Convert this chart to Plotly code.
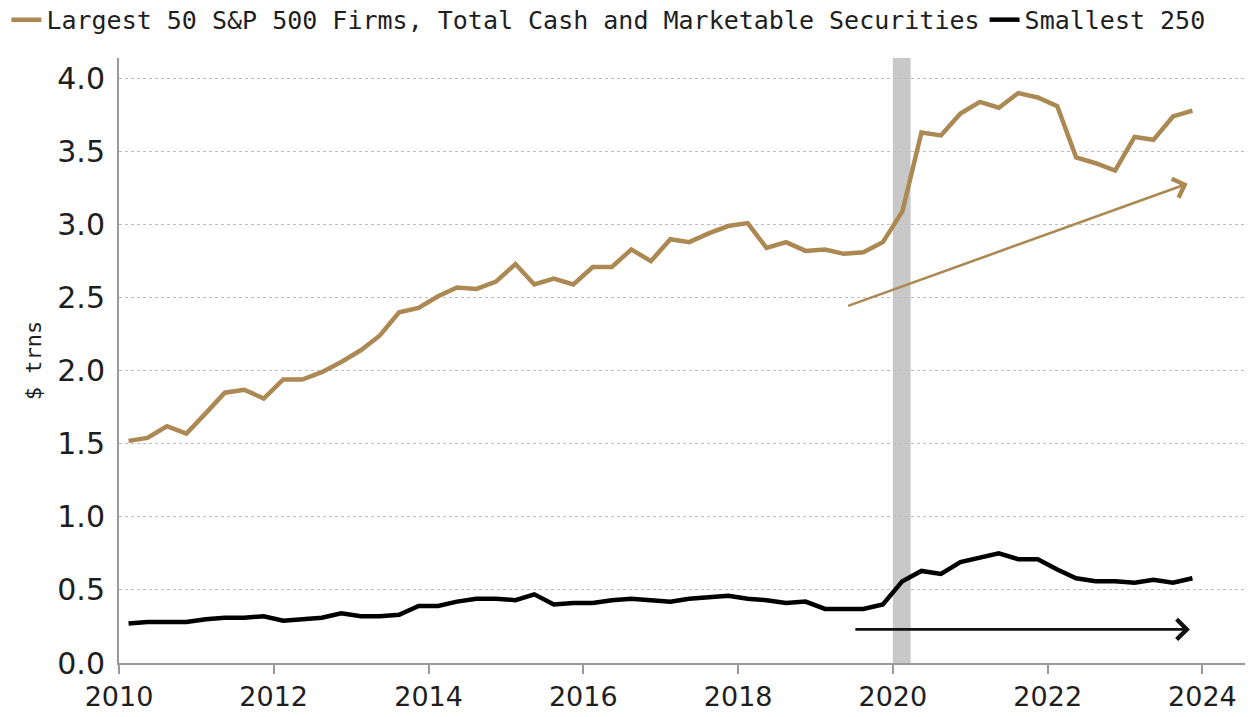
import plotly.graph_objects as go

# ---------------- data ----------------
n_points = 56
dates = [f"{2010 + (1 + 3 * k) // 12}-{(1 + 3 * k) % 12 + 1:02d}-15" for k in range(n_points)]

largest50 = [1.52, 1.54, 1.62, 1.57, 1.71, 1.85, 1.87, 1.81, 1.94, 1.94,
             1.99, 2.06, 2.14, 2.24, 2.40, 2.43, 2.51, 2.57, 2.56, 2.61,
             2.73, 2.59, 2.63, 2.59, 2.71, 2.71, 2.83, 2.75, 2.90, 2.88,
             2.94, 2.99, 3.01, 2.84, 2.88, 2.82, 2.83, 2.80, 2.81, 2.88,
             3.09, 3.63, 3.61, 3.76, 3.84, 3.80, 3.90, 3.87, 3.81, 3.46,
             3.42, 3.37, 3.60, 3.58, 3.74, 3.78]

smallest250 = [0.27, 0.28, 0.28, 0.28, 0.30, 0.31, 0.31, 0.32, 0.29, 0.30,
               0.31, 0.34, 0.32, 0.32, 0.33, 0.39, 0.39, 0.42, 0.44, 0.44,
               0.43, 0.47, 0.40, 0.41, 0.41, 0.43, 0.44, 0.43, 0.42, 0.44,
               0.45, 0.46, 0.44, 0.43, 0.41, 0.42, 0.37, 0.37, 0.37, 0.40,
               0.56, 0.63, 0.61, 0.69, 0.72, 0.75, 0.71, 0.71, 0.64, 0.58,
               0.56, 0.56, 0.55, 0.57, 0.55, 0.58]

series_names = ["Largest 50 S&P 500 Firms, Total Cash and Marketable Securities",
                "Smallest 250"]

recession = ("2020-01-01", "2020-03-25")

gold_arrow = {"start": ("2019-05-28", 2.44), "end": ("2023-10-23", 3.28)}
black_arrow = {"start": ("2019-07-01", 0.23), "end": ("2023-11-03", 0.23)}

y_ticks = [0.0, 0.5, 1.0, 1.5, 2.0, 2.5, 3.0, 3.5, 4.0]

# ---------------- style ----------------
GOLD = "#AC8852"
BLACK = "#000000"
MONO = "DejaVu Sans Mono"
SANS = "DejaVu Sans"
TXT = "#1e1e1e"

fig = go.Figure()
fig.add_trace(go.Scatter(x=dates, y=largest50, mode="lines", name=series_names[0],
                         line=dict(color=GOLD, width=4.5)))
fig.add_trace(go.Scatter(x=dates, y=smallest250, mode="lines", name=series_names[1],
                         line=dict(color=BLACK, width=4.5)))

fig.add_shape(type="rect", xref="x", yref="paper", x0=recession[0], x1=recession[1],
              y0=0, y1=1, fillcolor="#c8c8c8", line=dict(width=0), layer="below")

for arr, col, w in [(gold_arrow, GOLD, 2.6), (black_arrow, "#111111", 2.6)]:
    fig.add_annotation(x=arr["end"][0], y=arr["end"][1], ax=arr["start"][0], ay=arr["start"][1],
                       xref="x", yref="y", axref="x", ayref="y", showarrow=True, text="",
                       arrowhead=4, arrowsize=1.5, arrowwidth=w, arrowcolor=col, standoff=0)

fig.update_layout(
    width=1251, height=717,
    margin=dict(l=119, r=6, t=58, b=54, autoexpand=False),
    paper_bgcolor="white", plot_bgcolor="white",
    showlegend=True,
    legend=dict(orientation="h", x=-0.1, xanchor="left", y=1.063, yanchor="middle",
                font=dict(family=MONO, size=25, color=TXT),
                itemwidth=30, tracegroupgap=0, bgcolor="rgba(0,0,0,0)"),
    xaxis=dict(type="date", range=["2010-01-01", "2024-07-20"],
               tickformat="%Y", dtick="M24", tick0="2010-01-01",
               showgrid=False, showline=True, linecolor="#9a9a9a", linewidth=2,
               ticks="outside", ticklen=9, tickwidth=1.5, tickcolor="#9a9a9a",
               ticklabelstandoff=0,
               tickfont=dict(family=SANS, size=27, color=TXT), zeroline=False),
    yaxis=dict(range=[0, 4.14], tickvals=y_ticks, ticktext=[f"{v:.1f}" for v in y_ticks],
               showgrid=True, gridcolor="#bdbdbd", griddash="dot", gridwidth=1.2,
               showline=True, linecolor="#9a9a9a", linewidth=2, ticks="",
               ticklabelstandoff=6,
               tickfont=dict(family=SANS, size=30, color=TXT), zeroline=False,
               title=dict(text="$ trns", font=dict(family=MONO, size=22, color=TXT),
                          standoff=10)),
)

fig.write_html("out.html")
